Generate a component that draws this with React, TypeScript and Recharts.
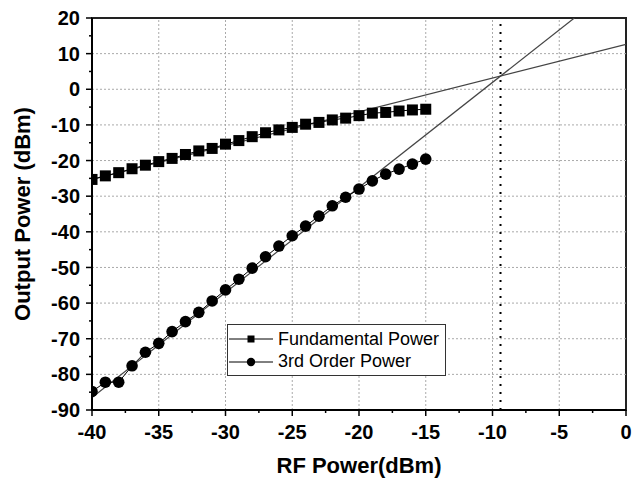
import React from 'react';
import {
  ComposedChart,
  Line,
  XAxis,
  YAxis,
  ReferenceLine,
  ReferenceArea,
  Legend,
} from 'recharts';

// input RF power sweep (dBm)
const rfPower = [
  -40, -39, -38, -37, -36, -35, -34, -33, -32, -31, -30, -29, -28,
  -27, -26, -25, -24, -23, -22, -21, -20, -19, -18, -17, -16, -15,
];

// measured output power (dBm)
const fundamentalPower = [
  -25.3, -24.3, -23.4, -22.3, -21.3, -20.3, -19.4, -18.3, -17.3, -16.6, -15.4, -14.4, -13.3,
  -12.2, -11.4, -10.7, -9.8, -9.3, -8.6, -8.1, -7.4, -6.7, -6.5, -6.1, -5.8, -5.6,
];
const thirdOrderPower = [
  -84.8, -82.2, -82.2, -77.6, -73.8, -71.3, -68.0, -65.2, -62.6, -59.4, -56.3, -53.3, -50.2,
  -47.0, -44.0, -41.1, -38.4, -35.6, -32.7, -30.3, -28.0, -25.7, -23.8, -22.4, -21.0, -19.6,
];

// linear extrapolations of both tones (end points)
const fundamentalFitX = [-40, 0];
const fundamentalFitY = [-25.3, 12.6];
const thirdOrderFitX = [-40, -3.87];
const thirdOrderFitY = [-86.5, 20];

// input referred intercept point
const interceptX = -9.4;

const legendOrder = ['Fundamental Power', '3rd Order Power'];

const xTicks = [-40, -35, -30, -25, -20, -15, -10, -5, 0];
const xMinorTicks = [-37.5, -32.5, -27.5, -22.5, -17.5, -12.5, -7.5, -2.5];
const yTicks = [-90, -80, -70, -60, -50, -40, -30, -20, -10, 0, 10, 20];
const yMinorTicks = [-85, -75, -65, -55, -45, -35, -25, -15, -5, 5, 15];

// inner grid lines (the frame covers the outer ones)
const xGrid = [-35, -30, -25, -20, -15, -10, -5];
const yGrid = [-80, -70, -60, -50, -40, -30, -20, -10, 0, 10];

const FONT = '"Liberation Sans", Arial, Helvetica, sans-serif';
const TICK_SIZE = 6;
const X_TICK_MARGIN = 9;
const Y_TICK_MARGIN = 6;

const measured = rfPower.map((x, i) => ({
  x,
  fundamental: fundamentalPower[i],
  third: thirdOrderPower[i],
}));
const fundamentalFit = fundamentalFitX.map((x, i) => ({ x, y: fundamentalFitY[i] }));
const thirdOrderFit = thirdOrderFitX.map((x, i) => ({ x, y: thirdOrderFitY[i] }));

const allXTicks = [...xTicks, ...xMinorTicks].sort((a, b) => a - b);
const allYTicks = [...yTicks, ...yMinorTicks].sort((a, b) => a - b);

const labelStyle = { fill: '#000', fontSize: 20, fontWeight: 'bold' as const, fontFamily: FONT };

// tick marks are drawn here so minor ones can be shorter and unlabeled
const XTick = (props: any) => {
  const { x, y, payload } = props;
  const major = xTicks.includes(payload.value);
  const axisY = y - X_TICK_MARGIN - TICK_SIZE;
  return (
    <g>
      <line x1={x} x2={x} y1={axisY} y2={axisY + (major ? TICK_SIZE : 3)} stroke="#000" strokeWidth={1.5} />
      {major && (
        <text x={x} y={y} dy="0.71em" textAnchor="middle" {...labelStyle}>
          {payload.value}
        </text>
      )}
    </g>
  );
};

const YTick = (props: any) => {
  const { x, y, payload } = props;
  const major = yTicks.includes(payload.value);
  const axisX = x + Y_TICK_MARGIN + TICK_SIZE;
  return (
    <g>
      <line x1={axisX} x2={axisX - (major ? TICK_SIZE : 3)} y1={y} y2={y} stroke="#000" strokeWidth={1.5} />
      {major && (
        <text x={x} y={y} dy="0.355em" textAnchor="end" {...labelStyle}>
          {payload.value}
        </text>
      )}
    </g>
  );
};

const SquareDot = (props: any) => {
  const { cx, cy, index } = props;
  if (cx == null || cy == null) return <g key={`sq-${index}`} />;
  return <rect key={`sq-${index}`} x={cx - 5.5} y={cy - 5.5} width={11} height={11} fill="#000" />;
};

const CircleDot = (props: any) => {
  const { cx, cy, index } = props;
  if (cx == null || cy == null) return <g key={`ci-${index}`} />;
  return <circle key={`ci-${index}`} cx={cx} cy={cy} r={5.8} fill="#000" />;
};

const renderLegend = (props: any) => {
  const items = (props.payload || [])
    .filter((p: any) => legendOrder.includes(p.value))
    .sort((a: any, b: any) => legendOrder.indexOf(a.value) - legendOrder.indexOf(b.value));
  return (
    <div
      style={{
        width: 219,
        height: 52,
        boxSizing: 'border-box',
        border: '1.5px solid #333',
        background: '#fff',
        position: 'relative',
        fontFamily: FONT,
      }}
    >
      {items.map((item: any, i: number) => (
        <div
          key={item.value}
          style={{
            position: 'absolute',
            left: 0,
            top: 3 + i * 22.6,
            height: 22,
            display: 'flex',
            alignItems: 'center',
          }}
        >
          <svg width={46} height={22} style={{ display: 'block' }}>
            <line x1={1} y1={11} x2={45} y2={11} stroke="#000" strokeWidth={1} />
            {item.type === 'square' ? (
              <rect x={19.5} y={7.5} width={7} height={7} fill="#000" />
            ) : (
              <circle cx={23} cy={11} r={4.2} fill="#000" />
            )}
          </svg>
          <span style={{ marginLeft: 4, fontSize: 18, color: '#000', whiteSpace: 'nowrap' }}>
            {item.value}
          </span>
        </div>
      ))}
    </div>
  );
};

export default function App() {
  return (
    <div style={{ position: 'absolute', left: 0, top: 0, width: 643, height: 482, background: '#fff' }}>
      <ComposedChart
        width={643}
        height={482}
        data={measured}
        margin={{ top: 18, right: 17, bottom: 0, left: 0 }}
      >
        <XAxis
          xAxisId="main"
          type="number"
          dataKey="x"
          domain={[-40, 0]}
          allowDataOverflow
          ticks={allXTicks}
          interval={0}
          height={72}
          tickSize={TICK_SIZE}
          tickMargin={X_TICK_MARGIN}
          tick={XTick}
          tickLine={false}
          axisLine={{ stroke: '#000', strokeWidth: 2 }}
          label={{
            value: 'RF Power(dBm)',
            position: 'insideBottom',
            offset: 9,
            style: { fill: '#000', fontSize: 22, fontWeight: 'bold', fontFamily: FONT },
          }}
        />
        <YAxis
          yAxisId="main"
          type="number"
          domain={[-90, 20]}
          allowDataOverflow
          ticks={allYTicks}
          interval={0}
          width={92}
          tickSize={TICK_SIZE}
          tickMargin={Y_TICK_MARGIN}
          tick={YTick}
          tickLine={false}
          axisLine={{ stroke: '#000', strokeWidth: 2 }}
          label={{
            value: 'Output Power (dBm)',
            angle: -90,
            position: 'insideLeft',
            offset: 22,
            style: { textAnchor: 'middle', fill: '#000', fontSize: 22, fontWeight: 'bold', fontFamily: FONT },
          }}
        />
        {xGrid.map((v) => (
          <ReferenceLine
            key={`gx${v}`}
            xAxisId="main"
            yAxisId="main"
            x={v}
            stroke="#aaa"
            strokeWidth={1}
            strokeDasharray="2 2"
          />
        ))}
        {yGrid.map((v) => (
          <ReferenceLine
            key={`gy${v}`}
            xAxisId="main"
            yAxisId="main"
            y={v}
            stroke="#aaa"
            strokeWidth={1}
            strokeDasharray="2 2"
          />
        ))}
        <ReferenceArea
          xAxisId="main"
          yAxisId="main"
          x1={-40}
          x2={0}
          y1={-90}
          y2={20}
          fill="none"
          fillOpacity={0}
          stroke="#222"
          strokeWidth={2}
        />
        <ReferenceLine
          xAxisId="main"
          yAxisId="main"
          x={interceptX}
          stroke="#000"
          strokeWidth={2}
          strokeDasharray="2 6"
        />
        <Line
          xAxisId="main"
          yAxisId="main"
          data={fundamentalFit}
          dataKey="y"
          stroke="#444"
          strokeWidth={1.2}
          dot={false}
          activeDot={false}
          legendType="none"
          isAnimationActive={false}
        />
        <Line
          xAxisId="main"
          yAxisId="main"
          data={thirdOrderFit}
          dataKey="y"
          stroke="#444"
          strokeWidth={1.2}
          dot={false}
          activeDot={false}
          legendType="none"
          isAnimationActive={false}
        />
        <Line
          xAxisId="main"
          yAxisId="main"
          dataKey="fundamental"
          name="Fundamental Power"
          stroke="#000"
          strokeWidth={1}
          dot={SquareDot}
          activeDot={false}
          legendType="square"
          isAnimationActive={false}
        />
        <Line
          xAxisId="main"
          yAxisId="main"
          dataKey="third"
          name="3rd Order Power"
          stroke="#000"
          strokeWidth={1}
          dot={CircleDot}
          activeDot={false}
          legendType="circle"
          isAnimationActive={false}
        />
        <Legend
          layout="vertical"
          align="center"
          verticalAlign="middle"
          wrapperStyle={{ left: 227, top: 324, width: 219, height: 52 }}
          content={renderLegend}
        />
      </ComposedChart>
    </div>
  );
}
